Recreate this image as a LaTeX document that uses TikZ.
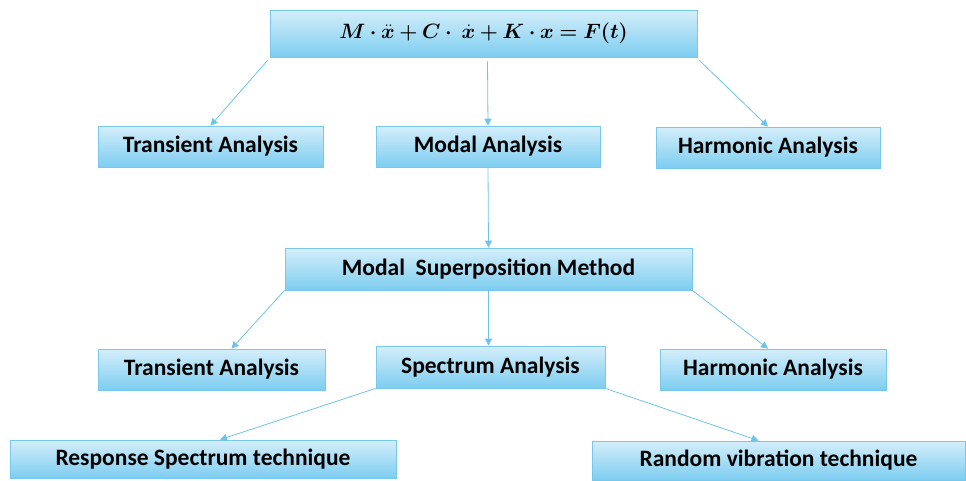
\documentclass[tikz,border=0pt]{standalone}
\usepackage{fontspec}
\setmainfont{Carlito}
\usepackage{amsmath,bm}
\usetikzlibrary{arrows.meta}
\definecolor{boxtop}{RGB}{212,238,250}
\definecolor{boxbot}{RGB}{125,205,240}
\definecolor{boxline}{RGB}{120,200,235}
\definecolor{arr}{RGB}{110,195,232}
\tikzset{
  box/.style={draw=boxline, line width=0.8pt, top color=boxtop, bottom color=boxbot,
    inner sep=0pt, font=\fontsize{23.5}{26}\selectfont\bfseries, text=black},
  link/.style={draw=arr, line width=0.8pt, -{Triangle[length=7pt,width=7pt]}}
}
\begin{document}
\begin{tikzpicture}[x=1pt,y=-1pt]
\useasboundingbox (0,0) rectangle (966,480);
\node[box, minimum width=427pt, minimum height=47pt] (top) at (483.5,33.5)
  {\fontsize{22.5}{24}\selectfont$\boldsymbol{M\cdot \ddot{x}+C\cdot\ \dot{x}+K\cdot x=F(t)}$};
\node[box, minimum width=225pt, minimum height=41pt] (tr1) at (210.5,146.5) {Transient Analysis};
\node[box, minimum width=224pt, minimum height=41pt] (mod) at (488,146.5) {Modal Analysis};
\node[box, minimum width=224pt, minimum height=41pt] (ha1) at (768,147.5) {Harmonic Analysis};
\node[box, minimum width=407pt, minimum height=42pt] (msm) at (488.5,269) {Modal\ \ Superposition Method};
\node[box, minimum width=227pt, minimum height=41pt] (tr2) at (211.5,369.5) {Transient Analysis};
\node[box, minimum width=229pt, minimum height=42pt] (spe) at (490.5,367) {Spectrum Analysis};
\node[box, minimum width=226pt, minimum height=41pt] (ha2) at (773,369.5) {Harmonic Analysis};
\node[box, minimum width=386pt, minimum height=38pt] (res) at (203,459) {Response Spectrum technique};
\node[box, minimum width=373pt, minimum height=39pt] (ran) at (778.5,460.5) {Random vibration technique};
\draw[link] (top.south west) ++(-2,3) coordinate (a1) (a1) -- (tr1.north);
\draw[link] (top.south) ++(4,4) coordinate (a2) (a2) -- (mod.north);
\draw[link] (top.south east) ++(2,3) coordinate (a3) (a3) -- (ha1.north);
\draw[link] (mod.south) -- (msm.north);
\draw[link] (msm.south west) -- ([xshift=20pt]tr2.north);
\draw[link] (msm.south) -- ([xshift=-2pt]spe.north);
\draw[link] (msm.south east) -- (ha2.north -| 768,0);
\draw[link] (spe.south west) -- ([xshift=17pt]res.north);
\draw[link] (spe.south east) -- ([xshift=-20pt]ran.north);
\end{tikzpicture}
\end{document}
